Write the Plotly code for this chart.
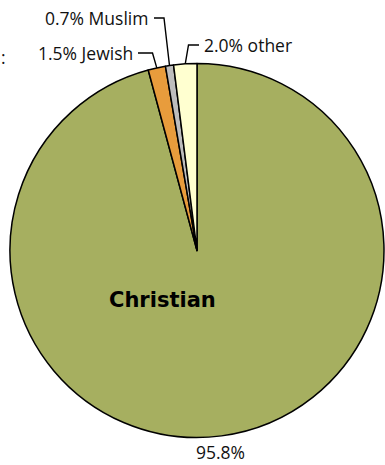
import math
import plotly.graph_objects as go

# Religious affiliation shares (percent), listed clockwise from 12 o'clock
religions = ["Christian", "Jewish", "Muslim", "other"]
shares = [95.8, 1.5, 0.7, 2.0]
colors = ["#A6AF60", "#E89C3C", "#BDBDBD", "#FFFFD0"]

W, H = 385, 465
CX, CY, R = 197.0, 250.5, 187.0  # pie centre (px from top-left) and radius

fig = go.Figure(go.Pie(
    labels=religions,
    values=shares,
    sort=False,
    direction="clockwise",
    rotation=0,
    marker=dict(colors=colors, line=dict(color="black", width=1.5)),
    textinfo="none",
    hoverinfo="label+percent",
    showlegend=False,
    domain=dict(x=[(CX - R) / W, (CX + R) / W],
                y=[(H - CY - R) / H, (H - CY + R) / H]),
))


def px(x, y):
    return x / W, 1 - y / H


def rim_point(idx):
    # point on the rim at the middle of a slice (clockwise from 12 o'clock)
    total = sum(shares)
    before = sum(shares[:idx])
    frac = (before + shares[idx] / 2) / total
    ang = math.pi / 2 - frac * 2 * math.pi
    return CX + R * math.cos(ang), CY - R * math.sin(ang)


font = dict(family="Open Sans, sans-serif", size=17.5, color="#111111")

# callout label layout: (slice index, elbow x, elbow y, end x, text x, anchor)
callouts = [
    (1, 152.5, 53, 138, 135, "right"),
    (2, 164.0, 18, 154, 150, "right"),
    (3, 188.5, 45, 199, 202, "left"),
]
shapes = []
annotations = []
for idx, ex, ey, hx, tx, anchor in callouts:
    rx, ry = rim_point(idx)
    p0 = px(rx, ry)
    p1 = px(ex, ey)
    p2 = px(hx, ey)
    shapes.append(dict(
        type="path", xref="paper", yref="paper",
        path=f"M{p0[0]},{p0[1]} L{p1[0]},{p1[1]} L{p2[0]},{p2[1]}",
        line=dict(color="black", width=1.4),
    ))
    ax, ay = px(tx, ey)
    annotations.append(dict(
        x=ax, y=ay, xref="paper", yref="paper", showarrow=False,
        text=f"{shares[idx]:.1f}% {religions[idx]}",
        xanchor=anchor, yanchor="middle", font=font,
    ))

# inner label and percentage of the main slice
cx_, cy_ = px(162, 300)
annotations.append(dict(
    x=cx_, y=cy_, xref="paper", yref="paper", showarrow=False,
    text="<b>Christian</b>", xanchor="center", yanchor="middle",
    font=dict(family="DejaVu Sans, sans-serif", size=21, color="black"),
))
annotations.append(dict(
    x=220 / W, y=0, xref="paper", yref="paper", showarrow=False,
    text=f"{shares[0]:.1f}%", xanchor="center", yanchor="bottom",
    borderpad=0, font=font,
))
lx, ly = px(3, 57)
annotations.append(dict(
    x=lx, y=ly, xref="paper", yref="paper", showarrow=False,
    text=":", xanchor="center", yanchor="middle", font=font,
))

fig.update_layout(
    width=W, height=H,
    margin=dict(l=0, r=0, t=0, b=0),
    paper_bgcolor="white", plot_bgcolor="white",
    shapes=shapes, annotations=annotations,
)

fig.write_html("out.html")
